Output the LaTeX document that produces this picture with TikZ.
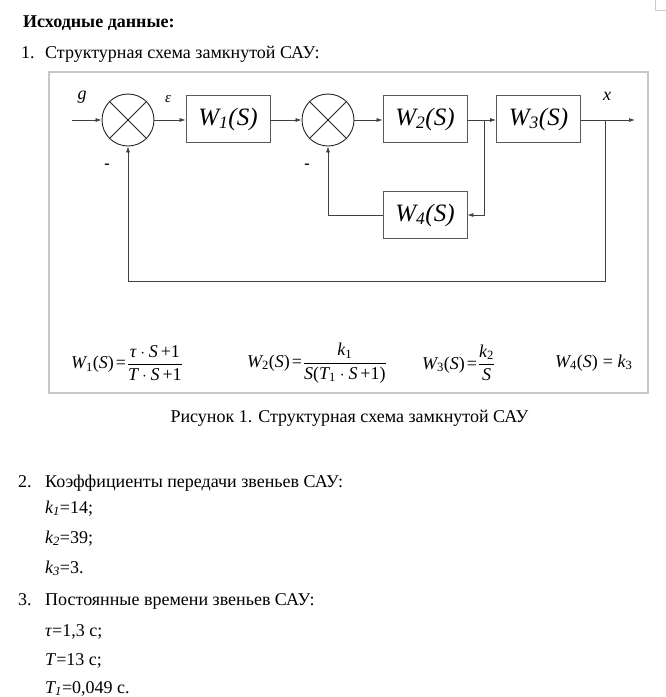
\documentclass[tikz,border=0pt]{standalone}
\usepackage{amsmath}
\usepackage{fontspec}
\setmainfont{Liberation Serif}
\usetikzlibrary{arrows.meta}
\newcommand{\ital}[1]{\text{\itshape #1}}
\newcommand{\rom}[1]{\text{#1}}
\newcommand{\eqs}{\mskip2mu\text{=}\mskip1mu}
\newcommand{\pls}{\mskip3mu\text{+}}
\begin{document}
\begin{tikzpicture}[x=1pt,y=-1pt,
  txt/.style={font=\fontsize{18}{21}\selectfont, anchor=base west, inner sep=0pt},
  blk/.style={draw=black!65, line width=0.8pt, minimum width=84pt, minimum height=47pt, inner sep=0pt, font=\fontsize{25}{25}\selectfont\itshape},
  sumj/.style={draw=black!85, line width=0.9pt, circle, minimum size=52pt, inner sep=0pt},
  con/.style={draw=black!75, line width=0.7pt},
  arr/.style={con, -{Latex[length=6pt,width=4pt]}},
  lbl/.style={font=\fontsize{18}{18}\selectfont\itshape, inner sep=0pt},
  frm/.style={draw=black!22, line width=1.2pt},
  fml/.style={font=\fontsize{18}{21}\selectfont, anchor=west, inner sep=0pt}]
\useasboundingbox (0,0) rectangle (666,697);
\fill[white] (0,0) rectangle (666,697);
\draw[black!20, line width=1pt] (655,0) -- (655,10) -- (666,10);

% texts above
\node[txt, font=\fontsize{18}{21}\selectfont\bfseries] (head) at (23,27) {Исходные данные:};
\node[txt] (n1) at (21,58) {1.};
\node[txt] (t1) at (45,58) {Структурная схема замкнутой САУ:};

% frame
\draw[frm] (49,72) rectangle (648,393);

% blocks
\node[sumj] (s1) at (128,120) {};
\node[sumj] (s2) at (328,120) {};
\draw[black!85, line width=0.9pt] (s1.45) -- (s1.225) (s1.135) -- (s1.315);
\draw[black!85, line width=0.9pt] (s2.45) -- (s2.225) (s2.135) -- (s2.315);
\node[blk] (w1) at (228,119) {W\textsubscript{1}(S)};
\node[blk] (w2) at (425,119) {W\textsubscript{2}(S)};
\node[blk] (w3) at (538.5,119) {W\textsubscript{3}(S)};
\node[blk] (w4) at (425,215) {W\textsubscript{4}(S)};

\node[lbl] (g) at (82,97) {g};
\node[lbl, font=\fontsize{15}{15}\selectfont\itshape] (eps) at (168,99) {ε};
\node[lbl] (xl) at (607,96) {x};
\node[font=\fontsize{16}{16}\selectfont\bfseries, inner sep=0pt] (m1) at (107,166) {-};
\node[font=\fontsize{16}{16}\selectfont\bfseries, inner sep=0pt] (m2) at (307,166) {-};

\coordinate (in) at (72,120);
\coordinate (b1) at (484,120);
\coordinate (b2) at (605,120);
\coordinate (out) at (635,120);
\coordinate (d1) at (605,281);

\draw[arr] (in) -- (s1.west);
\draw[arr] (s1.east) -- (w1.west |- s1.east);
\draw[arr] (w1.east |- s2.west) -- (s2.west);
\draw[arr] (s2.east) -- (w2.west |- s2.east);
\draw[arr] (w2.east |- b1) -- (w3.west |- b1);
\draw[arr] (w3.east |- b2) -- (out);
\draw[arr] (b1) |- (w4.east);
\draw[arr] (w4.west) -| (s2.south);
\draw[arr] (b2) -- (d1) -| (s1.south);

% formulas
\node[fml] (f1) at (71,363) {$\ital{W}_{\rom{1}}\rom{(}\ital{S}\rom{)}\eqs\dfrac{\ital{τ}\cdot\ital{S}\pls\rom{1}}{\ital{T}\cdot\ital{S}\pls\rom{1}}$};
\node[fml] (f2) at (247,363) {$\ital{W}_{\rom{2}}\rom{(}\ital{S}\rom{)}\eqs\dfrac{\ital{k}_{\rom{1}}}{\ital{S}\rom{(}\ital{T}_{\rom{1}}\cdot\ital{S}\pls\rom{1}\rom{)}}$};
\node[fml] (f3) at (422,363) {$\ital{W}_{\rom{3}}\rom{(}\ital{S}\rom{)}\eqs\dfrac{\ital{k}_{\rom{2}}}{\ital{S}}$};
\node[fml] (f4) at (555,363) {$\ital{W}_{\rom{4}}\rom{(}\ital{S}\rom{)}\mathrel{\text{=}}\ital{k}_{\rom{3}}$};

\node[txt, anchor=base] (cap) at (349.5,422) {Рисунок 1. Структурная схема замкнутой САУ};

% lower list
\node[txt] (n2) at (18,487) {2.};
\node[txt] (t2) at (45,487) {Коэффициенты передачи звеньев САУ:};
\node[txt] (k1) at (45,513) {\textit{k\textsubscript{1}}=14;};
\node[txt] (k2) at (45,543) {\textit{k\textsubscript{2}}=39;};
\node[txt] (k3) at (45,573) {\textit{k\textsubscript{3}}=3.};
\node[txt] (n3) at (18,605) {3.};
\node[txt] (t3) at (45,605) {Постоянные времени звеньев САУ:};
\node[txt] (tau) at (45,636) {\textit{τ}=1,3 с;};
\node[txt] (tt) at (45,665) {\textit{T}=13 с;};
\node[txt] (tt1) at (45,693) {\textit{T\textsubscript{1}}=0,049 с.};
\end{tikzpicture}
\end{document}
